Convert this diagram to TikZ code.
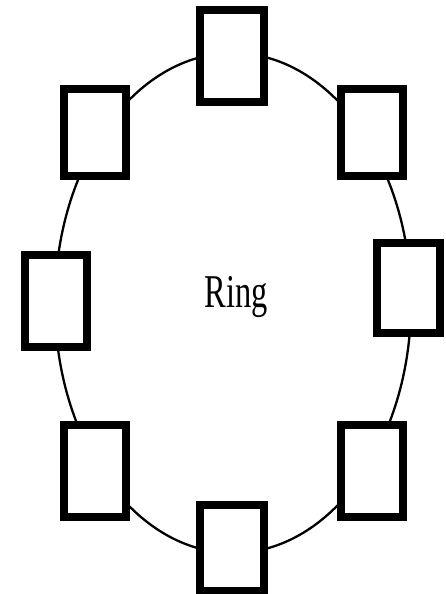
\documentclass[tikz,border=0pt]{standalone}
\usepackage{fontspec}
\setmainfont{Liberation Serif}
\begin{document}
\begin{tikzpicture}[x=1pt,y=-1pt,
  station/.style={draw=black,fill=white,line width=7.5pt,rectangle,inner sep=0pt,outer sep=0pt},
  ring/.style={draw=black,line width=2.3pt}]
\useasboundingbox (0,0) rectangle (445,594);
\draw[ring] (233,303) ellipse [x radius=178, y radius=250];
\node[station,minimum width=64pt,minimum height=92pt] (top) at (232,56) {};
\node[station,minimum width=62pt,minimum height=87pt] (tl) at (95,132.5) {};
\node[station,minimum width=62pt,minimum height=87pt] (tr) at (372,132.5) {};
\node[station,minimum width=62pt,minimum height=92pt] (l) at (56,301) {};
\node[station,minimum width=63pt,minimum height=90pt] (r) at (408.5,288) {};
\node[station,minimum width=62pt,minimum height=92pt] (bl) at (95,471) {};
\node[station,minimum width=62pt,minimum height=92pt] (br) at (372,471) {};
\node[station,minimum width=64pt,minimum height=86pt] (bot) at (232,548) {};
\node[inner sep=0pt,xscale=0.69,font=\fontsize{47}{50}\selectfont] (label) at (236,297) {Ring};
\end{tikzpicture}
\end{document}
